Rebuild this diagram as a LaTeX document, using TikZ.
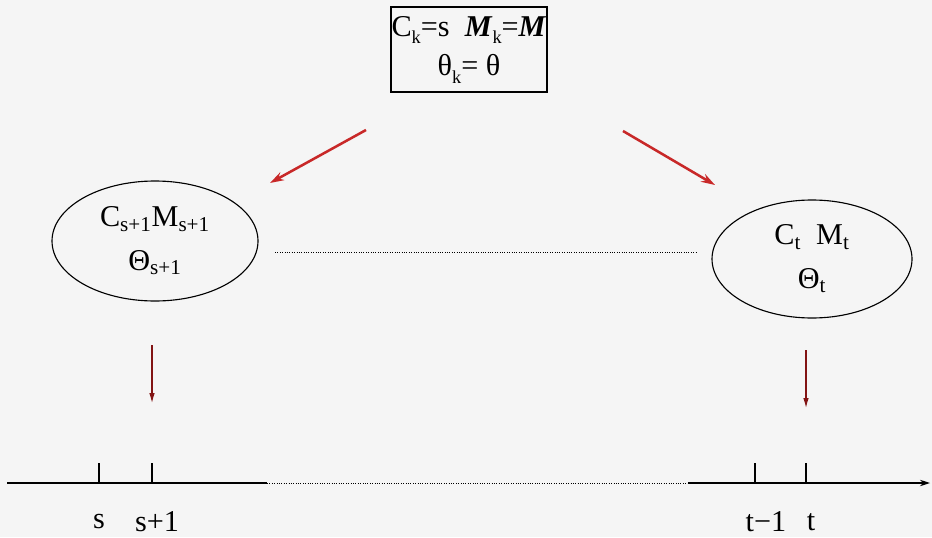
\documentclass[tikz,border=0pt]{standalone}
\usepackage{fontspec}
\setmainfont{Liberation Serif}
\usepackage{xcolor}
\usepackage{tikz}
\usetikzlibrary{arrows.meta,positioning,calc,shapes.geometric}

\definecolor{scanred}{RGB}{200,40,40}
\definecolor{darkred}{RGB}{130,20,20}
\newcommand{\bM}{\textbf{\textit{M}}}
\newcommand{\sbz}[1]{\raisebox{-0.25em}{\fontsize{13}{13}\selectfont #1}}

\begin{document}
\begin{tikzpicture}[
  font=\fontsize{21.5}{25}\selectfont,
  bx/.style={draw,line width=0.9pt,minimum width=3.9cm,minimum height=2.125cm,align=center,inner sep=0pt},
  ell/.style={ellipse,draw,line width=0.8pt,align=center,inner sep=0pt},
  rarr/.style={-{Stealth[length=3.5mm,width=2.2mm]},line width=1.8pt,scanred},
  darr/.style={-{Latex[length=2.5mm,width=1.4mm]},line width=0.8pt,darkred},
  tk/.style={line width=1.6pt},
  lab/.style={inner sep=0pt}]
  \fill[black!4] (0,0) rectangle (23.3,-13.425);
  \useasboundingbox (0,0) rectangle (23.3,-13.425);
  % prior box and the two states
  \node[bx] (prior) at (11.725,-1.24) {C\sbz{k}=s\ \ \bM\sbz{k}=\bM\\[3pt] θ\sbz{k}= θ};
  \node[ell,minimum width=5.15cm,minimum height=3.0cm] (first) at (3.875,-6.025) {C\textsubscript{s+1}M\textsubscript{s+1}\\[6pt]Θ\textsubscript{s+1}};
  \node[ell,minimum width=5.0cm,minimum height=2.95cm] (last) at (20.3,-6.475) {C\textsubscript{t}\ \ M\textsubscript{t}\\[6pt]Θ\textsubscript{t}};
  \coordinate (la0) at (9.15,-3.25);
  \coordinate (la1) at (6.75,-4.575);
  \coordinate (ra0) at (15.575,-3.275);
  \coordinate (ra1) at (17.875,-4.625);
  \draw[rarr] (la0) -- (la1);
  \draw[rarr] (ra0) -- (ra1);
  \coordinate (d0) at (6.875,-6.3);
  \coordinate (d1) at (17.425,-6.3);
  \draw[densely dotted,line width=0.7pt] (d0) -- (d1);
  % time axis
  \coordinate (t0) at (0.175,-12.075);
  \coordinate (t1) at (6.675,-12.075);
  \coordinate (t2) at (17.2,-12.075);
  \coordinate (t3) at (23.25,-12.075);
  \draw[line width=0.8pt] (t0) -- (t1);
  \draw[densely dotted,line width=0.7pt] (t1) -- (t2);
  \draw[line width=0.8pt,-{Stealth[length=2.5mm,width=1.6mm]}] (t2) -- (t3);
  \coordinate (ks) at (2.475,-12.075);
  \coordinate (ks1) at (3.8,-12.075);
  \coordinate (kt1) at (18.875,-12.075);
  \coordinate (kt) at (20.15,-12.075);
  \foreach \k in {ks,ks1,kt1,kt}
    \draw[tk] (\k) -- ++(0,0.5);
  \node[lab] (ls) at (2.475,-13.05) {s};
  \node[lab] (ls1) at (3.925,-13.05) {s+1};
  \node[lab] (lt1) at (19.15,-13.05) {t−1};
  \node[lab] (lt) at (20.275,-13.05) {t};
  % drops to the axis
  \coordinate (da0) at (3.8,-8.625);
  \coordinate (da1) at (3.8,-10.075);
  \coordinate (db0) at (20.15,-8.75);
  \coordinate (db1) at (20.15,-10.2);
  \draw[darr] (da0) -- (da1);
  \draw[darr] (db0) -- (db1);
\end{tikzpicture}
\end{document}
